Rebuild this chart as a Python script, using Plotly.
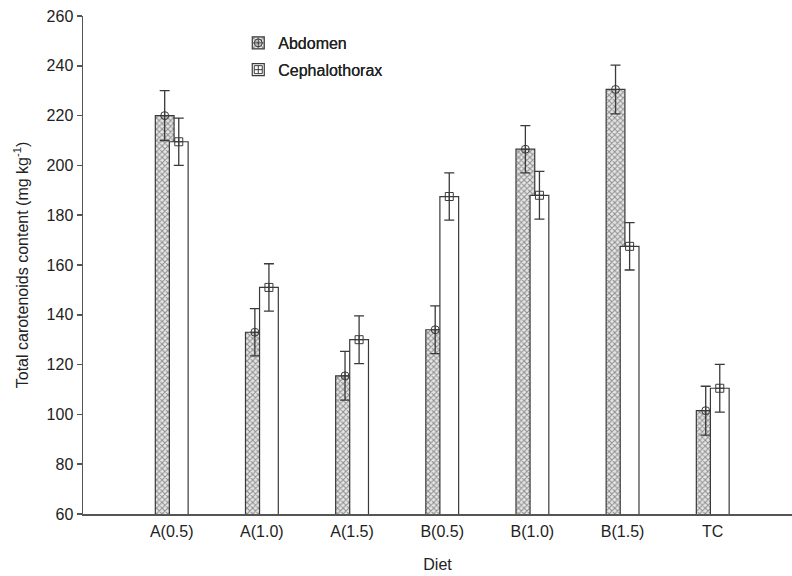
import plotly.graph_objects as go

categories = ["A(0.5)", "A(1.0)", "A(1.5)", "B(0.5)", "B(1.0)", "B(1.5)", "TC"]
abdomen = [220, 133, 115.5, 134, 206.5, 230.5, 101.5]
abdomen_err = [10, 9.5, 9.8, 9.6, 9.5, 9.8, 9.8]
cephalothorax = [209.5, 151, 130, 187.5, 188, 167.5, 110.5]
cephalothorax_err = [9.5, 9.5, 9.6, 9.5, 9.6, 9.5, 9.6]
y_ticks = [60, 80, 100, 120, 140, 160, 180, 200, 220, 240, 260]

idx = list(range(len(categories)))
shift = 0.078
bw = 0.208
x_abd = [i - shift for i in idx]
x_ceph = [i + shift for i in idx]

LINE = "#3a3a3a"
FONT = "Liberation Sans, Arial, sans-serif"

fig = go.Figure()

fig.add_trace(go.Bar(
    x=x_abd, y=abdomen, width=bw, name="Abdomen", legendgroup="a",
    marker=dict(color="white", line=dict(color=LINE, width=1.2),
                pattern=dict(shape="x", size=4, solidity=0.45, fgcolor="#333333", bgcolor="#e6e6e6")),
    error_y=dict(type="data", array=abdomen_err, color=LINE, thickness=1.3, width=5),
    legend="legend",
))
fig.add_trace(go.Bar(
    x=x_ceph, y=cephalothorax, width=bw, name="Cephalothorax", legendgroup="c",
    marker=dict(color="white", line=dict(color=LINE, width=1.2)),
    error_y=dict(type="data", array=cephalothorax_err, color=LINE, thickness=1.3, width=5),
    legend="legend",
))
fig.add_trace(go.Scatter(
    x=x_abd, y=abdomen, mode="markers", name="Abdomen", legendgroup="a2",
    marker=dict(symbol="circle-cross-open", size=8, color=LINE, line=dict(width=1)),
    legend="legend2",
))
fig.add_trace(go.Scatter(
    x=x_ceph, y=cephalothorax, mode="markers", name="Cephalothorax", legendgroup="c2",
    marker=dict(symbol="square-cross-open", size=8, color=LINE, line=dict(width=1)),
    legend="legend2",
))

legend_common = dict(x=0.219, y=0.98, xanchor="left", yanchor="top",
                     bgcolor="rgba(0,0,0,0)", borderwidth=0,
                     tracegroupgap=3, itemwidth=30,
                     font=dict(family=FONT, size=16, color="#222222"))
fig.update_layout(
    width=792, height=576,
    margin=dict(l=83, r=0, t=16, b=62),
    plot_bgcolor="white", paper_bgcolor="white",
    barmode="overlay",
    font=dict(family=FONT, size=16, color="#222222"),
    legend=dict(**legend_common),
    legend2=dict(**legend_common),
    xaxis=dict(
        range=[-0.984, 6.879], tickmode="array", tickvals=idx, ticktext=categories,
        showline=True, linecolor="#555555", linewidth=1.5, ticks="", showgrid=False,
        zeroline=False, ticklabelstandoff=2, automargin=False,
        title=dict(text="Diet", font=dict(size=16), standoff=20),
    ),
    yaxis=dict(
        range=[60, 260], tickmode="array", tickvals=y_ticks,
        showline=True, linecolor="#555555", linewidth=1.5, ticks="outside",
        ticklen=5, tickcolor="#555555", tickwidth=1.5, showgrid=False, zeroline=False,
        automargin=False, ticklabeloverflow="allow",
        title=dict(text="Total carotenoids content (mg kg<sup>-1</sup>)", font=dict(size=16), standoff=14),
    ),
)

fig.write_html("out.html", config={"displayModeBar": False, "staticPlot": True})

# remove the browser's default body margin so the figure fills the window exactly
with open("out.html", "r", encoding="utf-8") as f:
    html = f.read()
html = html.replace("<body>", '<body style="margin:0;overflow:hidden">', 1)
with open("out.html", "w", encoding="utf-8") as f:
    f.write(html)
